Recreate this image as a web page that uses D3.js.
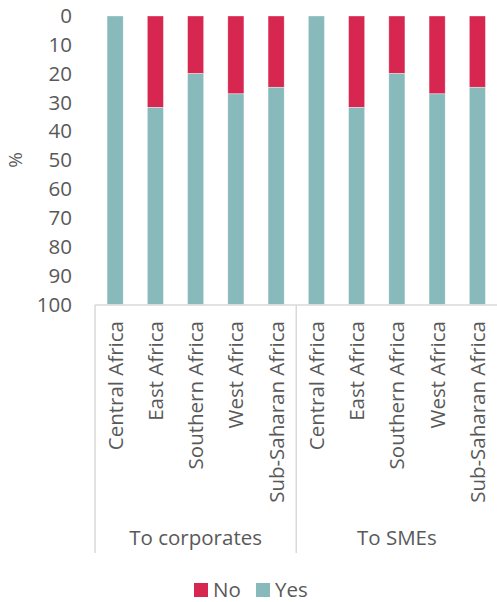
<!DOCTYPE html>
<html>
<head>
<meta charset="utf-8">
<script src="https://cdn.jsdelivr.net/npm/d3@7"></script>
<style>
  body { margin: 0; background: #fff; }
  text { font-family: "Open Sans", sans-serif; fill: #595959; }
</style>
</head>
<body>
<script>
var groups = ["To corporates", "To SMEs"];
var regions = ["Central Africa", "East Africa", "Southern Africa", "West Africa", "Sub-Saharan Africa"];
// % answering "No" per region (same picture for both groups)
var noCorporates = [0, 31.7, 20, 27, 24.7];
var noSMEs = [0, 31.7, 20, 27, 24.7];
var yTicks = [0, 10, 20, 30, 40, 50, 60, 70, 80, 90, 100];

var width = 497, height = 602;
var colNo = "#D72750", colYes = "#88B9BB", gridCol = "#D9D9D9";
var fs = "20.5px";

var rows = [];
groups.forEach(function(g, gi) {
  var no = gi === 0 ? noCorporates : noSMEs;
  regions.forEach(function(r, i) {
    rows.push({ key: g + "|" + r, group: g, region: r, No: no[i], Yes: 100 - no[i] });
  });
});

var svg = d3.select("body").append("svg")
  .attr("width", width)
  .attr("height", height);

var x = d3.scaleBand()
  .domain(rows.map(function(d) { return d.key; }))
  .range([95, 497.5])
  .paddingInner(0.6)
  .paddingOuter(0.3);

var y = d3.scaleLinear().domain([0, 100]).range([16, 304.5]);

// stacked: No from top (0), Yes below
var stack = d3.stack().keys(["No", "Yes"]);
var series = stack(rows);
var color = { No: colNo, Yes: colYes };

svg.selectAll("g.series").data(series)
  .enter().append("g")
  .attr("class", "series")
  .attr("fill", function(d) { return color[d.key]; })
  .selectAll("rect").data(function(d) { return d; })
  .enter().append("rect")
  .attr("x", function(d) { return x(d.data.key); })
  .attr("y", function(d) { return y(d[0]); })
  .attr("width", x.bandwidth())
  .attr("height", function(d) { return y(d[1]) - y(d[0]); })
  .attr("stroke", "#fff")
  .attr("stroke-opacity", 0.6)
  .attr("stroke-width", 0.6);

// y axis labels
var yAxis = svg.append("g")
  .attr("transform", "translate(95,0)")
  .call(d3.axisLeft(y).tickValues(yTicks).tickSize(0).tickPadding(23));
yAxis.select(".domain").remove();
yAxis.selectAll("text")
  .style("font-size", fs)
  .style("font-family", "'Open Sans', sans-serif")
  .attr("fill", "#595959");

svg.append("text")
  .attr("transform", "translate(15,160) rotate(-90)")
  .attr("text-anchor", "middle")
  .attr("dy", "0.35em")
  .style("font-size", "19px")
  .text("%");

// category axis lines
var axisY = y(100) + 0.5;
svg.append("line")
  .attr("x1", 95).attr("x2", 497).attr("y1", axisY).attr("y2", axisY)
  .attr("stroke", gridCol).attr("stroke-width", 1.5);

var step = x.step();
var groupEdges = [95, 95 + step * regions.length];
groupEdges.forEach(function(ex) {
  svg.append("line")
    .attr("x1", ex).attr("x2", ex).attr("y1", axisY).attr("y2", 553)
    .attr("stroke", gridCol).attr("stroke-width", 1.5);
});

// region labels
svg.selectAll("text.cat").data(rows)
  .enter().append("text")
  .attr("class", "cat")
  .attr("transform", function(d) {
    return "translate(" + (x(d.key) + x.bandwidth() / 2) + ",321) rotate(-90)";
  })
  .attr("text-anchor", "end")
  .attr("dy", "0.36em")
  .style("font-size", fs)
  .text(function(d) { return d.region; });

// group labels
groups.forEach(function(g, gi) {
  var x0 = 95 + step * regions.length * gi;
  var x1 = x0 + step * regions.length;
  svg.append("text")
    .attr("x", (x0 + x1) / 2)
    .attr("y", 545)
    .attr("text-anchor", "middle")
    .style("font-size", fs)
    .text(g);
});

// legend
var legend = [{ k: "No", x: 194 }, { k: "Yes", x: 256 }];
legend.forEach(function(l) {
  svg.append("rect")
    .attr("x", l.x).attr("y", 583).attr("width", 14).attr("height", 14)
    .attr("fill", color[l.k]);
  svg.append("text")
    .attr("x", l.x + 19).attr("y", 590)
    .attr("dy", "0.35em")
    .style("font-size", fs)
    .text(l.k);
});
</script>
</body>
</html>
